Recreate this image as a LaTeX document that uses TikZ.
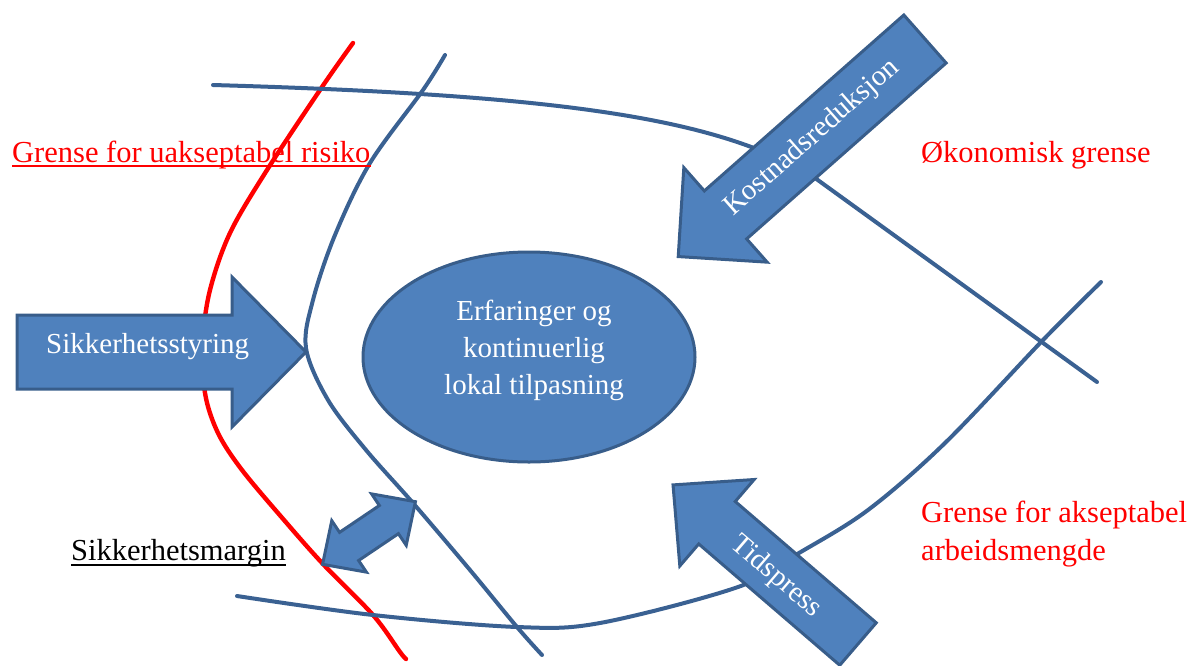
\documentclass[tikz,border=0pt]{standalone}
\usepackage{fontspec}
\setmainfont{Liberation Serif}
\newfontfamily\timesfam{Liberation Serif}
\usetikzlibrary{shapes.geometric}
\definecolor{fillblue}{HTML}{4F81BD}
\definecolor{edgeblue}{HTML}{385D8A}
\definecolor{lineblue}{HTML}{3A6192}
\newcommand\blockarr[7]{\begin{scope}[shift={(#1,#2)},rotate=#3]\filldraw[barr](0,-#5)--({#4-#7},-#5)--({#4-#7},-#6)--(#4,0)--({#4-#7},#6)--({#4-#7},#5)--(0,#5)--cycle;\end{scope}}
\begin{document}
\begin{tikzpicture}[x=1pt,y=-1pt,
 bline/.style={draw=lineblue, line width=4pt, line cap=round},
 rline/.style={draw=red, line width=4.4pt, line cap=round},
 barr/.style={fill=fillblue, draw=edgeblue, line width=3pt, line join=miter},
 wtext/.style={text=white, font=\timesfam\fontsize{29}{37}\selectfont, inner sep=0},
 rtext/.style={text=red, font=\timesfam\fontsize{30.5}{38}\selectfont, inner sep=0, anchor=base west, align=left},
 ktext/.style={text=black, font=\timesfam\fontsize{30.5}{38}\selectfont, inner sep=0, anchor=base west},
]
\useasboundingbox (0,0) rectangle (1194,665);
% boundary lines
\draw[rline] plot[smooth, tension=0.55] coordinates {(353,43) (322,87) (267,170) (230,233) (210,290) (203,340) (205,393) (218,433) (242,470) (284,520) (323,564) (373,615) (400,652) (406,659)};
\draw[bline] plot[smooth, tension=0.55] coordinates {(445,55) (423,90) (370,163) (335,235) (313,300) (306,348) (328,400) (366,450) (413,503) (470,570) (517,627) (542,655)};
\draw[bline] (213,85) .. controls (560,95) and (720,118) .. (815,178) -- (1097,382);
\draw[bline] plot[smooth, tension=0.55] coordinates {(237,596) (373,615) (517,627) (600,623) (738,587) (799,553) (868,510) (945,443) (1043,340) (1101,282)};
% central ellipse
\node[ellipse, fill=fillblue, draw=edgeblue, line width=3pt, minimum width=332pt, minimum height=210pt, inner sep=0] (core) at (529,357) {};
\node[wtext, align=center] (coretext) at (534,350) {Erfaringer og\\kontinuerlig\\lokal tilpasning};
% block arrows
\blockarr{17}{352}{0}{289}{37}{75}{74}
\blockarr{925}{39}{221.4}{329}{32}{63}{63}
\blockarr{858}{644}{139.3}{244}{28}{57}{58}
\begin{scope}[shift={(369,533)},rotate=34]
\filldraw[barr] (-56,0) -- (-24,31) -- (-24,17) -- (24,17) -- (24,31) -- (56,0) -- (24,-31) -- (24,-17) -- (-24,-17) -- (-24,-31) -- cycle;
\end{scope}
\node[wtext, anchor=base west] (styr) at (46,353) {Sikkerhetsstyring};
\node[wtext, rotate=41.4] (kost) at (812,138) {Kostnadsreduksjon};
\node[wtext, rotate=-40.7] (tid) at (776,577) {Tidspress};
% labels
\node[rtext] (risk) at (12,162) {Grense for uakseptabel risiko};
\draw[red, line width=1.6pt] ([yshift=-4pt]risk.base west) -- ([yshift=-4pt]risk.base east);
\node[rtext] (okon) at (921,162) {Økonomisk grense};
\node[rtext] (arb) at (921,560) {Grense for akseptabel\\arbeidsmengde};
\node[ktext] (marg) at (71,560) {Sikkerhetsmargin};
\draw[black, line width=1.6pt] ([yshift=-5pt]marg.base west) -- ([yshift=-5pt]marg.base east);
\end{tikzpicture}
\end{document}
